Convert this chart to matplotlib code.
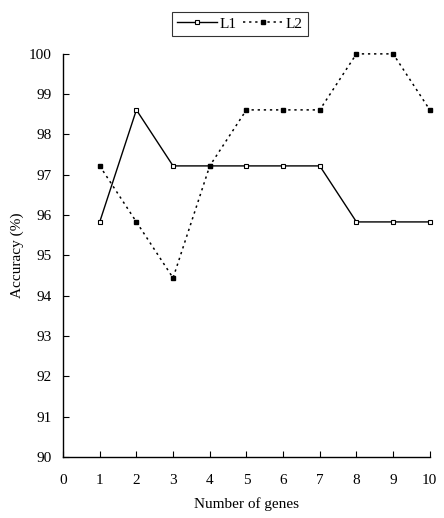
import numpy as np
import matplotlib.pyplot as plt

plt.rcParams['font.family'] = ['Liberation Serif', 'DejaVu Serif']

genes = [1, 2, 3, 4, 5, 6, 7, 8, 9, 10]
acc_l1 = [95.83, 98.61, 97.22, 97.22, 97.22, 97.22, 97.22, 95.83, 95.83, 95.83]
acc_l2 = [97.22, 95.83, 94.44, 97.22, 98.61, 98.61, 98.61, 100.0, 100.0, 98.61]

fig = plt.figure(figsize=(4.44, 5.18), dpi=100)
ax = fig.add_axes([0.142, 0.118, 0.826, 0.778])

ax.plot(genes, acc_l1, 'k-', lw=1, marker='s', ms=3.2, mfc='white', mec='black', mew=0.8,
        label='L1', clip_on=False)
ax.plot(genes, acc_l2, color='black', lw=1.1, dashes=(1.5, 2.5), marker='s', ms=3.2,
        mfc='black', mec='black', label='L2', clip_on=False)

ax.set_xlim(0, 10)
ax.set_ylim(90, 100)
ax.set_xticks(range(0, 11))
ax.set_yticks(range(90, 101))
ax.tick_params(direction='in', length=4, width=0.8, labelsize=11, pad=12)
ax.tick_params(axis='y', pad=8)
for s in ['top', 'right']:
    ax.spines[s].set_visible(False)
for s in ['left', 'bottom']:
    ax.spines[s].set_linewidth(1)
ax.set_xlabel('Number of genes', fontsize=11, labelpad=8)
ax.set_ylabel('Accuracy (%)', fontsize=11)

leg = fig.legend(loc='center', bbox_to_anchor=(0.54, 0.954), ncol=2, fontsize=11,
                 fancybox=False, edgecolor='black', handlelength=2.6, columnspacing=0.4,
                 handletextpad=0.2, borderpad=0.35, borderaxespad=0)
leg.get_frame().set_linewidth(0.8)

fig.savefig('out.png', dpi=100)
